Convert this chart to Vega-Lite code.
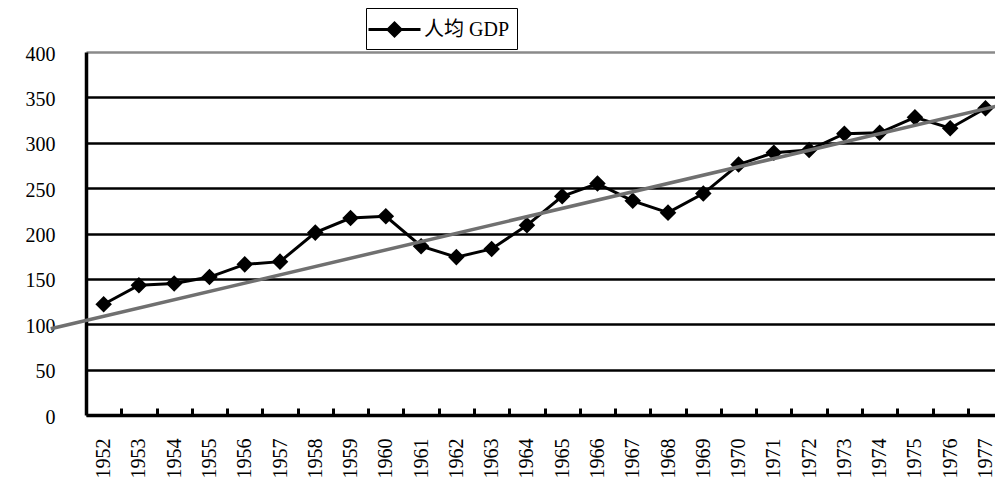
{
  "$schema": "https://vega.github.io/schema/vega-lite/v6.json",
  "width": 909,
  "height": 363,
  "autosize": {"type": "none"},
  "padding": {"left": 86, "top": 52, "right": 0, "bottom": 80},
  "background": "white",
  "config": {"view": {"stroke": null}, "font": "Liberation Serif"},
  "datasets": {
    "gdp": [
      {"year": 1952, "gdp": 122, "series": "人均 GDP"},
      {"year": 1953, "gdp": 143, "series": "人均 GDP"},
      {"year": 1954, "gdp": 145, "series": "人均 GDP"},
      {"year": 1955, "gdp": 152, "series": "人均 GDP"},
      {"year": 1956, "gdp": 166, "series": "人均 GDP"},
      {"year": 1957, "gdp": 169, "series": "人均 GDP"},
      {"year": 1958, "gdp": 201, "series": "人均 GDP"},
      {"year": 1959, "gdp": 217, "series": "人均 GDP"},
      {"year": 1960, "gdp": 219, "series": "人均 GDP"},
      {"year": 1961, "gdp": 186, "series": "人均 GDP"},
      {"year": 1962, "gdp": 174, "series": "人均 GDP"},
      {"year": 1963, "gdp": 183, "series": "人均 GDP"},
      {"year": 1964, "gdp": 209, "series": "人均 GDP"},
      {"year": 1965, "gdp": 241, "series": "人均 GDP"},
      {"year": 1966, "gdp": 255, "series": "人均 GDP"},
      {"year": 1967, "gdp": 236, "series": "人均 GDP"},
      {"year": 1968, "gdp": 223, "series": "人均 GDP"},
      {"year": 1969, "gdp": 244, "series": "人均 GDP"},
      {"year": 1970, "gdp": 276, "series": "人均 GDP"},
      {"year": 1971, "gdp": 289, "series": "人均 GDP"},
      {"year": 1972, "gdp": 292, "series": "人均 GDP"},
      {"year": 1973, "gdp": 310, "series": "人均 GDP"},
      {"year": 1974, "gdp": 311, "series": "人均 GDP"},
      {"year": 1975, "gdp": 328, "series": "人均 GDP"},
      {"year": 1976, "gdp": 316, "series": "人均 GDP"},
      {"year": 1977, "gdp": 338, "series": "人均 GDP"}
    ],
    "trend": [
      {"year": 1950.5, "trend": 95},
      {"year": 1977.5, "trend": 342}
    ]
  },
  "layer": [
    {
      "data": {"name": "gdp"},
      "mark": {"type": "line", "color": "black", "strokeWidth": 3},
      "encoding": {
        "x": {
          "field": "year",
          "type": "quantitative",
          "scale": {"domain": [1951.5, 1977.27], "nice": false, "zero": false},
          "axis": {
            "values": [1952, 1953, 1954, 1955, 1956, 1957, 1958, 1959, 1960, 1961, 1962, 1963, 1964, 1965, 1966, 1967, 1968, 1969, 1970, 1971, 1972, 1973, 1974, 1975, 1976, 1977],
            "tickCount": 40,
            "format": "d",
            "labelAngle": 270,
            "tickOffset": 17.637,
            "labelOffset": -17.637,
            "tickSize": -7,
            "tickWidth": 3,
            "tickColor": "black",
            "domainColor": "black",
            "domainWidth": 3.5,
            "labelFont": "Liberation Serif",
            "labelFontSize": 20,
            "labelColor": "black",
            "labelPadding": 30,
            "labelFlush": false,
            "labelOverlap": false,
            "grid": false,
            "title": null
          }
        },
        "y": {
          "field": "gdp",
          "type": "quantitative",
          "scale": {"domain": [0, 400], "nice": false},
          "axis": {
            "values": [0, 50, 100, 150, 200, 250, 300, 350, 400],
            "grid": true,
            "gridColor": {"condition": {"test": "datum.value === 400", "value": "#8a8a8a"}, "value": "black"},
            "gridWidth": 2.5,
            "ticks": false,
            "tickSize": 0,
            "domainColor": "black",
            "domainWidth": 3.5,
            "labelFont": "Liberation Serif",
            "labelFontSize": 20,
            "labelColor": "black",
            "labelPadding": 31,
            "labelOffset": 2,
            "title": null
          }
        }
      }
    },
    {
      "data": {"name": "gdp"},
      "mark": {"type": "point", "shape": "diamond", "filled": true, "size": 170, "stroke": "black", "strokeWidth": 2.5, "opacity": 1},
      "encoding": {
        "x": {"field": "year", "type": "quantitative"},
        "y": {"field": "gdp", "type": "quantitative"},
        "color": {
          "field": "series",
          "type": "nominal",
          "scale": {"range": ["black"]},
          "legend": {
            "orient": "none",
            "legendX": 280,
            "legendY": -44,
            "title": null,
            "strokeColor": "black",
            "fillColor": "white",
            "padding": 7,
            "labelFont": "Liberation Serif, Noto Sans CJK SC",
            "labelFontSize": 20,
            "labelColor": "black",
            "labelOffset": 15,
            "symbolOffset": 7,
            "symbolSize": 676,
            "symbolType": "M-2,0H2M-0.5,0L0,-0.5L0.5,0L0,0.5Z",
            "symbolStrokeColor": "black",
            "symbolStrokeWidth": 3,
            "symbolFillColor": "black",
            "encode": {
              "legend": {"update": {"strokeWidth": {"value": 3}}},
              "symbols": {
                "update": {
                  "shape": {"value": "M-2,0H2M-0.5,0L0,-0.5L0.5,0L0,0.5Z"},
                  "size": {"value": 676},
                  "fill": {"value": "black"},
                  "stroke": {"value": "black"},
                  "strokeWidth": {"value": 3},
                  "opacity": {"value": 1}
                }
              }
            }
          }
        }
      }
    },
    {
      "data": {"name": "trend"},
      "mark": {"type": "line", "color": "#707070", "strokeWidth": 3.5},
      "encoding": {
        "x": {"field": "year", "type": "quantitative"},
        "y": {"field": "trend", "type": "quantitative"}
      }
    }
  ]
}
